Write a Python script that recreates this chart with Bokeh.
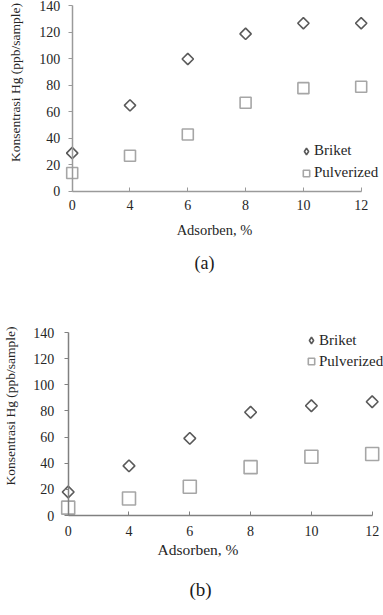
import math

from bokeh.embed import file_html
from bokeh.layouts import column
from bokeh.models import (FixedTicker, Label, Legend, LegendItem, LinearAxis,
                          Range1d)
from bokeh.plotting import figure
from bokeh.resources import INLINE

# Adsorbent share (categories, evenly spaced on the axis)
adsorben = ["0", "4", "6", "8", "10", "12"]

# Hg concentration, ppb/sample
briket_a = [29, 65, 100, 119, 127, 127]
pulverized_a = [14, 27, 43, 67, 78, 79]
briket_b = [18, 38, 59, 79, 84, 87]
pulverized_b = [6, 13, 22, 37, 45, 47]

y_ticks = [0, 20, 40, 60, 80, 100, 120, 140]
series_names = ["Briket", "Pulverized"]
captions = ["(a)", "(b)"]
x_title = "Adsorben, %"
y_title = "Konsentrasi Hg (ppb/sample)"

FONT = "Liberation Serif"
TEXT = "#262626"

# Layout / style settings for each panel.  The plot frame fills the whole
# canvas; the axes sit at data x=0 / y=0 and all titles are placed in data
# coordinates.
panel_cfg = [
    dict(height=282,
         x_range=(-1.2405, 5.386), y_range=(-68.68, 144.15),
         axis_color="#9a9a9a", y_standoff=8, x_standoff=9,
         diamond=8, square=11,
         ytitle_pos=(-0.981, 82.3), xtitle_pos=(2.462, -29.4), xtitle_size="14.5px",
         caption_pos=(2.289, -54.3), caption_size="18px",
         legend_loc=(298, 100.3), legend_spacing=4),
    dict(height=333,
         x_range=(-1.1135, 5.186), y_range=(-76.51, 178.27),
         axis_color="#808080", y_standoff=10, x_standoff=10,
         diamond=8.3, square=13,
         ytitle_pos=(-0.949, 83.8), xtitle_pos=(2.135, -26.0), xtitle_size="15.5px",
         caption_pos=(2.176, -56.6), caption_size="19px",
         legend_loc=(303, 245), legend_spacing=3),
]


def make_panel(briket, pulverized, caption, cfg):
    xs = list(range(len(adsorben)))
    p = figure(width=383, height=cfg["height"], output_backend="svg",
               toolbar_location=None, x_axis_location=None, y_axis_location=None,
               x_range=Range1d(*cfg["x_range"]), y_range=Range1d(*cfg["y_range"]),
               min_border_left=0, min_border_right=0,
               min_border_top=0, min_border_bottom=0)
    p.outline_line_color = None
    p.grid.visible = False
    p.background_fill_color = "white"
    p.border_fill_color = "white"

    # x axis: categories placed on tick marks, drawn at y=0
    xaxis = LinearAxis(ticker=FixedTicker(ticks=xs), bounds=(0, len(xs) - 1),
                       fixed_location=0,
                       major_label_overrides={i: lab for i, lab in enumerate(adsorben)})
    xaxis.axis_line_color = cfg["axis_color"]
    xaxis.axis_line_width = 1.5
    xaxis.major_tick_line_color = cfg["axis_color"]
    xaxis.major_tick_in = 4
    xaxis.major_tick_out = 0
    xaxis.minor_tick_line_color = None
    xaxis.major_label_standoff = cfg["x_standoff"]
    xaxis.major_label_text_font = FONT
    xaxis.major_label_text_font_size = "14px"
    xaxis.major_label_text_color = TEXT
    p.add_layout(xaxis, "below")

    # y axis drawn at the first category
    yaxis = LinearAxis(ticker=FixedTicker(ticks=y_ticks), bounds=(0, 140),
                       fixed_location=0)
    yaxis.axis_line_color = cfg["axis_color"]
    yaxis.axis_line_width = 1.5
    yaxis.major_tick_line_color = cfg["axis_color"]
    yaxis.major_tick_in = 0
    yaxis.major_tick_out = 4
    yaxis.minor_tick_line_color = None
    yaxis.major_label_standoff = cfg["y_standoff"]
    yaxis.major_label_text_font = FONT
    yaxis.major_label_text_font_size = "14px"
    yaxis.major_label_text_color = TEXT
    p.add_layout(yaxis, "left")

    r_pulv = p.scatter(xs, pulverized, marker="square", size=cfg["square"],
                       fill_color="white", line_color="#a6a6a6", line_width=1.6)
    r_brik = p.scatter(xs, briket, marker="square", angle=math.pi / 4,
                       size=cfg["diamond"], fill_color="white",
                       line_color="#5a5a5a", line_width=1.6)
    # hidden twin of the Briket series, only used for its legend swatch
    r_brik_key = p.scatter(xs, briket, marker="diamond", size=cfg["diamond"],
                           fill_color="white", line_color="#5a5a5a",
                           line_width=1.6, visible=False)

    legend = Legend(items=[LegendItem(label=series_names[0], renderers=[r_brik_key]),
                           LegendItem(label=series_names[1], renderers=[r_pulv])],
                    location=cfg["legend_loc"], margin=0, padding=0,
                    spacing=cfg["legend_spacing"], glyph_width=16, glyph_height=18,
                    label_height=18, label_standoff=0,
                    label_text_font=FONT, label_text_font_size="15px",
                    label_text_color=TEXT, border_line_color=None,
                    background_fill_alpha=0)
    p.add_layout(legend)

    p.add_layout(Label(x=cfg["ytitle_pos"][0], y=cfg["ytitle_pos"][1], text=y_title,
                       angle=math.pi / 2, text_align="center", text_baseline="middle",
                       text_font=FONT, text_font_size="13.5px", text_color=TEXT))
    p.add_layout(Label(x=cfg["xtitle_pos"][0], y=cfg["xtitle_pos"][1], text=x_title,
                       text_align="center", text_baseline="middle",
                       text_font=FONT, text_font_size=cfg["xtitle_size"], text_color=TEXT))
    p.add_layout(Label(x=cfg["caption_pos"][0], y=cfg["caption_pos"][1], text=caption,
                       text_align="center", text_baseline="middle",
                       text_font=FONT, text_font_size=cfg["caption_size"], text_color="#1a1a1a"))
    return p


pa = make_panel(briket_a, pulverized_a, captions[0], panel_cfg[0])
pb = make_panel(briket_b, pulverized_b, captions[1], panel_cfg[1])
layout = column(pa, pb, spacing=0)

open("out.html", "w").write(file_html(layout, INLINE))
